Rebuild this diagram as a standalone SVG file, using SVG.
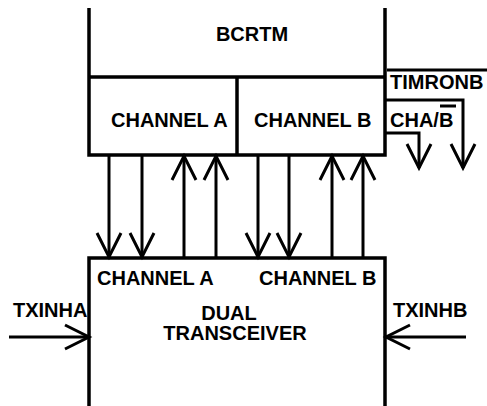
<svg xmlns="http://www.w3.org/2000/svg" width="487" height="406" viewBox="0 0 487 406">
<style>
.box{fill:none;stroke:#000;stroke-width:3.5}
.ln{fill:none;stroke:#000;stroke-width:3}
.t{font-family:"Liberation Sans",Arial,sans-serif;font-weight:bold;font-size:20px;fill:#000}
.m{text-anchor:middle}
</style>
<defs>
<marker id="v" markerUnits="userSpaceOnUse" viewBox="-28 -15 32 30" refX="0" refY="0" markerWidth="32" markerHeight="30" orient="auto">
<path d="M-24,-12 L0,0 L-24,12" fill="none" stroke="#000" stroke-width="3"/>
</marker>
</defs>
<rect width="487" height="406" fill="#fff"/>
<g id="bcrtm">
<path class="box" d="M89,8 V155 H385 V8 M89,77 H385"/>
<text class="t m" x="252" y="41">BCRTM</text>
</g>
<g id="channelA_top">
<text class="t" x="111" y="127">CHANNEL A</text>
</g>
<g id="channelB_top">
<path class="box" d="M237,77 V155"/>
<text class="t" x="254" y="127">CHANNEL B</text>
</g>
<g id="signals">
<path class="ln" d="M387,70 H487"/>
<text class="t" x="390" y="89">TIMRONB</text>
<text class="t" x="390" y="127">CHA/B</text>
<path class="ln" d="M440,106 H456"/>
</g>
<g id="transceiver">
<path class="box" d="M89,406 V258 H385 V406"/>
<text class="t" x="97" y="285">CHANNEL A</text>
<text class="t" x="259" y="285">CHANNEL B</text>
<text class="t m" x="229" y="320">DUAL</text>
<text class="t m" x="235" y="340">TRANSCEIVER</text>
</g>
<g id="txinha">
<text class="t" x="13" y="317">TXINHA</text>
</g>
<g id="txinhb">
<text class="t" x="393" y="317">TXINHB</text>
</g>
<g id="connectors">
<path class="ln" d="M109,155 V257" marker-end="url(#v)"/>
<path class="ln" d="M142,155 V257" marker-end="url(#v)"/>
<path class="ln" d="M258,155 V257" marker-end="url(#v)"/>
<path class="ln" d="M289,155 V257" marker-end="url(#v)"/>
<path class="ln" d="M184,258 V156" marker-end="url(#v)"/>
<path class="ln" d="M216,258 V156" marker-end="url(#v)"/>
<path class="ln" d="M332,258 V156" marker-end="url(#v)"/>
<path class="ln" d="M363,258 V156" marker-end="url(#v)"/>
<path class="ln" d="M385,100 H463 V168" marker-end="url(#v)"/>
<path class="ln" d="M385,133 H419 V168" marker-end="url(#v)"/>
<path class="ln" d="M9,337 H89" marker-end="url(#v)"/>
<path class="ln" d="M466,337 H386" marker-end="url(#v)"/>
</g>
</svg>
